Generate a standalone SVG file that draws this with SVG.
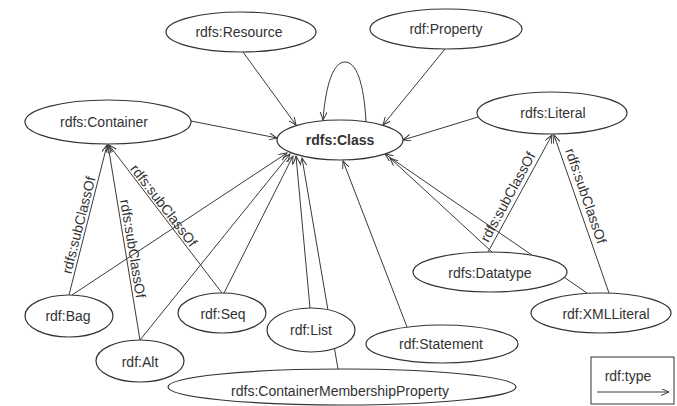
<svg xmlns="http://www.w3.org/2000/svg" width="677" height="406" viewBox="0 0 677 406">
  <style>
    .node ellipse { fill: #ffffff; stroke: #333333; stroke-width: 1.2; }
    .node text { font-family: "Liberation Sans", Arial, sans-serif; font-size: 14px; fill: #333333; text-anchor: middle; }
    .node text.bold { font-weight: bold; }
    .edge { fill: none; stroke: #3a3a3a; stroke-width: 1; marker-end: url(#arrow); }
    .label { font-family: "Liberation Sans", Arial, sans-serif; font-size: 14px; fill: #333333; text-anchor: middle; }
  </style>
  <defs>
    <marker id="arrow" markerWidth="10" markerHeight="10" refX="8" refY="3.5" orient="auto" markerUnits="userSpaceOnUse">
      <path d="M0,0 L8,3.5 L0,7" fill="none" stroke="#3a3a3a" stroke-width="1"/>
    </marker>
  </defs>
  <rect width="677" height="406" fill="#ffffff"/>

  <!-- connectors (drawn first so node fills hide crossings) -->
  <g id="connectors">
    <!-- rdf:type edges into rdfs:Class -->
    <line class="edge" x1="243" y1="52" x2="296" y2="125"/>
    <line class="edge" x1="445" y1="49" x2="383" y2="125"/>
    <line class="edge" x1="191" y1="121" x2="277" y2="138"/>
    <line class="edge" x1="478" y1="117" x2="403" y2="140"/>
    <path class="edge" d="M366,122 C364,82 356,62 345,62 C334,62 326,82 323,120"/>
    <line class="edge" x1="407" y1="327" x2="343" y2="161"/>
    <line class="edge" x1="587" y1="293" x2="385" y2="154"/>
    <line class="edge" x1="492" y1="252" x2="390" y2="158"/>
    <line class="edge" x1="338" y1="369" x2="302" y2="158"/>
    <line class="edge" x1="310" y1="308" x2="296" y2="156"/>
    <line class="edge" x1="224" y1="293" x2="293" y2="156"/>
    <line class="edge" x1="140" y1="340" x2="290" y2="154"/>
    <line class="edge" x1="72" y1="295" x2="287" y2="153"/>
    <!-- rdfs:subClassOf edges -->
    <line class="edge" x1="69" y1="295" x2="107" y2="145"/>
    <line class="edge" x1="140" y1="340" x2="108" y2="145"/>
    <line class="edge" x1="222" y1="293" x2="109" y2="145"/>
    <line class="edge" x1="488" y1="252" x2="552" y2="135"/>
    <line class="edge" x1="609" y1="293" x2="554" y2="135"/>
    <!-- edge labels -->
    <text class="label" transform="translate(86.3,226.9) rotate(-75.8)" y="-3">rdfs:subClassOf</text>
    <text class="label" transform="translate(125.2,250) rotate(80.7)" y="-3">rdfs:subClassOf</text>
    <text class="label" transform="translate(158,210) rotate(52.4)" y="-2.5">rdfs:subClassOf</text>
    <text class="label" transform="translate(515.6,201.1) rotate(-61.5)" y="-4">rdfs:subClassOf</text>
    <text class="label" transform="translate(576.6,199.3) rotate(70.9)" y="-5">rdfs:subClassOf</text>
  </g>

  <!-- nodes -->
  <g id="resource" class="node">
    <ellipse cx="241" cy="32" rx="75" ry="20"/>
    <text x="239" y="37">rdfs:Resource</text>
  </g>
  <g id="property" class="node">
    <ellipse cx="446" cy="29" rx="76" ry="20"/>
    <text x="446" y="34">rdf:Property</text>
  </g>
  <g id="container" class="node">
    <ellipse cx="108" cy="122" rx="83" ry="22"/>
    <text x="104" y="127">rdfs:Container</text>
  </g>
  <g id="class" class="node">
    <ellipse cx="340" cy="140" rx="63" ry="20"/>
    <text class="bold" x="340" y="145">rdfs:Class</text>
  </g>
  <g id="literal" class="node">
    <ellipse cx="552" cy="113" rx="75" ry="21"/>
    <text x="553" y="118">rdfs:Literal</text>
  </g>
  <g id="datatype" class="node">
    <ellipse cx="490" cy="272" rx="77" ry="20"/>
    <text x="490" y="278">rdfs:Datatype</text>
  </g>
  <g id="xmlliteral" class="node">
    <ellipse cx="601" cy="313" rx="70" ry="20"/>
    <text x="606" y="319">rdf:XMLLiteral</text>
  </g>
  <g id="statement" class="node">
    <ellipse cx="442" cy="344" rx="76" ry="19"/>
    <text x="441" y="349">rdf:Statement</text>
  </g>
  <g id="containermembershipproperty" class="node">
    <ellipse cx="342" cy="387" rx="174" ry="18"/>
    <text x="340" y="396">rdfs:ContainerMembershipProperty</text>
  </g>
  <g id="list" class="node">
    <ellipse cx="311" cy="330" rx="44" ry="22"/>
    <text x="311" y="335">rdf:List</text>
  </g>
  <g id="seq" class="node">
    <ellipse cx="222" cy="313" rx="44" ry="20"/>
    <text x="223" y="319">rdf:Seq</text>
  </g>
  <g id="bag" class="node">
    <ellipse cx="69" cy="316" rx="44" ry="21"/>
    <text x="68" y="321">rdf:Bag</text>
  </g>
  <g id="alt" class="node">
    <ellipse cx="140" cy="361" rx="44" ry="21"/>
    <text x="140" y="367">rdf:Alt</text>
  </g>

  <!-- legend -->
  <g id="legend">
    <rect x="591" y="357" width="83" height="47" fill="#ffffff" stroke="#333333" stroke-width="1"/>
    <text class="label" x="628" y="381">rdf:type</text>
    <line class="edge" x1="597" y1="392" x2="669" y2="392"/>
  </g>
</svg>
